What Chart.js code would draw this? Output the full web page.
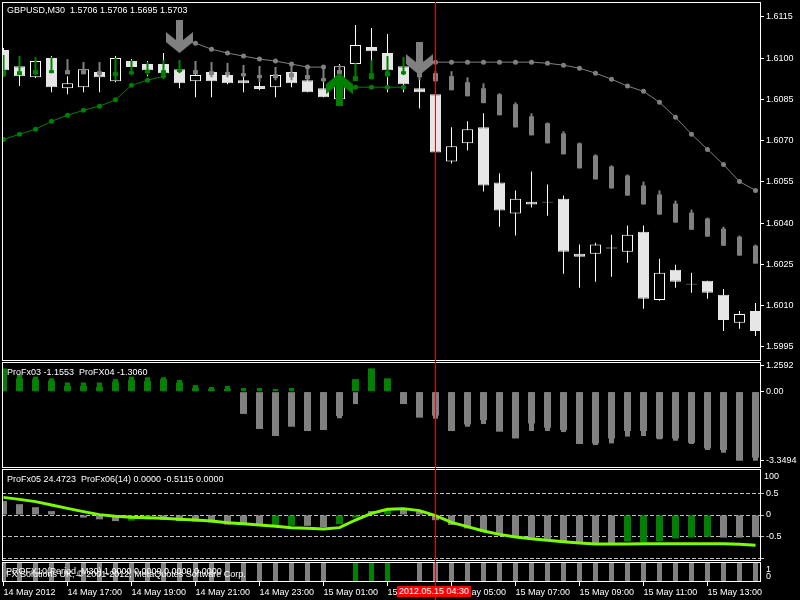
<!DOCTYPE html>
<html>
<head>
<meta charset="utf-8">
<script src="https://cdn.jsdelivr.net/npm/chart.js@4.4.1/dist/chart.umd.min.js"></script>
<style>
  html, body { margin: 0; background: #000; }
  #root { position: relative; width: 800px; height: 600px; overflow: hidden; background: #000;
          font: 9px 'Liberation Sans', Arial, sans-serif; color: #fff; }
  #root canvas { position: absolute; left: 0; }
  .lbl { position: absolute; white-space: pre; line-height: 11px; z-index: 2; }
  .stamp { background: #f00; padding-left: 2px; width: 72px; height: 11px; }
</style>
</head>
<body>
<div id="root">
  <div class="lbl" style="left:7px;top:5px">GBPUSD,M30  1.5706 1.5706 1.5695 1.5703</div>
  <div class="lbl" style="left:7px;top:367px">ProFx03 -1.1553  ProFX04 -1.3060</div>
  <div class="lbl" style="left:7px;top:474px">ProFx05 24.4723  ProFx06(14) 0.0000 -0.5115 0.0000</div>
  <div class="lbl" style="left:6px;top:566px">PROFX10(Period_M30) 1.0000 0.0000 0.0000 0.0000</div>
  <div class="lbl" style="left:6px;top:569px">FX Solutions UK, © 2001-2012, MetaQuotes Software Corp.</div>
  <div class="lbl" style="left:766px;top:564px">1</div>
  <div class="lbl" style="left:766px;top:571px">0</div>
  <div class="lbl stamp" style="left:397px;top:586px">2012.05.15 04:30</div>
</div>
<script>
// ---- bars (M30, 14 May 15:00 -> 15 May 14:30) ----
const barTimes = [
  '14.05 15:00','14.05 15:30','14.05 16:00','14.05 16:30','14.05 17:00','14.05 17:30',
  '14.05 18:00','14.05 18:30','14.05 19:00','14.05 19:30','14.05 20:00','14.05 20:30',
  '14.05 21:00','14.05 21:30','14.05 22:00','14.05 22:30','14.05 23:00','14.05 23:30',
  '15.05 00:00','15.05 00:30','15.05 01:00','15.05 01:30','15.05 02:00','15.05 02:30',
  '15.05 03:00','15.05 03:30','15.05 04:00','15.05 04:30','15.05 05:00','15.05 05:30',
  '15.05 06:00','15.05 06:30','15.05 07:00','15.05 07:30','15.05 08:00','15.05 08:30',
  '15.05 09:00','15.05 09:30','15.05 10:00','15.05 10:30','15.05 11:00','15.05 11:30',
  '15.05 12:00','15.05 12:30','15.05 13:00','15.05 13:30','15.05 14:00','15.05 14:30'
];
const axisLabelBars = [0, 4, 8, 12, 16, 20, 24, 28, 32, 36, 40, 44];
const axisLabels = ['14 May 2012','14 May 17:00','14 May 19:00','14 May 21:00','14 May 23:00',
  '15 May 01:00','15 May 03:00','15 May 05:00','15 May 07:00','15 May 09:00','15 May 11:00','15 May 13:00'];
const crosshairBar = 27;

const opens = [1.61029,1.60970,1.60930,1.61000,1.60890,1.60894,1.60949,1.60916,1.60989,1.60978,
  1.60978,1.60959,1.60916,1.60949,1.60938,1.60919,1.60898,1.60894,1.60949,1.60919,
  1.60890,1.60850,1.60978,1.61040,1.61018,1.60970,1.60890,1.60868,1.60624,1.60690,
  1.60748,1.60548,1.60435,1.60478,1.60478,1.60489,1.60289,1.60289,1.60311,1.60296,
  1.60369,1.60121,1.60231,1.60180,1.60191,1.60140,1.60038,1.60081];
const highs = [1.61036,1.61007,1.60992,1.61007,1.60934,1.60985,1.60985,1.61007,1.60996,1.60989,
  1.61018,1.60992,1.60989,1.60985,1.60981,1.60974,1.60970,1.60967,1.60981,1.60967,
  1.60963,1.60978,1.61120,1.61109,1.61087,1.61003,1.60938,1.60872,1.60748,1.60770,
  1.60799,1.60580,1.60519,1.60588,1.60540,1.60500,1.60322,1.60329,1.60358,1.60391,
  1.60391,1.60271,1.60249,1.60220,1.60191,1.60161,1.60081,1.60110];
const lows = [1.60949,1.60898,1.60927,1.60876,1.60868,1.60876,1.60876,1.60912,1.60938,1.60934,
  1.60938,1.60890,1.60857,1.60857,1.60905,1.60876,1.60883,1.60857,1.60894,1.60876,
  1.60857,1.60847,1.60919,1.60927,1.60876,1.60876,1.60817,1.60654,1.60617,1.60664,
  1.60515,1.60387,1.60355,1.60457,1.60427,1.60216,1.60165,1.60187,1.60205,1.60256,
  1.60089,1.60118,1.60165,1.60147,1.60125,1.60008,1.60016,1.59990];
const closes = [1.60956,1.60934,1.60989,1.60894,1.60908,1.60959,1.60930,1.61000,1.60967,1.60956,
  1.60945,1.60908,1.60938,1.60916,1.60908,1.60908,1.60887,1.60938,1.60908,1.60876,
  1.60857,1.60970,1.61047,1.61025,1.60956,1.60905,1.60876,1.60657,1.60679,1.60741,
  1.60537,1.60446,1.60489,1.60468,1.60475,1.60296,1.60278,1.60322,1.60308,1.60358,
  1.60125,1.60220,1.60187,1.60177,1.60147,1.60048,1.60070,1.60008];

// thin "shadow" candles drawn over the price bars
const ghostHi = [1.61011,1.61007,1.61003,1.61003,1.60996,1.60985,1.60985,1.61000,1.60992,1.60985,
  1.60992,1.60992,1.60989,1.60985,1.60981,1.60974,1.60970,1.60967,1.60981,1.60967,
  1.60974,1.60974,1.60981,1.60992,1.61007,1.61003,1.60970,1.60952,1.60952,1.60930,
  1.60908,1.60872,1.60839,1.60799,1.60766,1.60734,1.60693,1.60650,1.60610,1.60577,
  1.60551,1.60519,1.60482,1.60449,1.60420,1.60387,1.60355,1.60322];
const ghostLo = [1.60930,1.60938,1.60938,1.60945,1.60941,1.60941,1.60930,1.60919,1.60938,1.60938,
  1.60938,1.60945,1.60941,1.60930,1.60930,1.60930,1.60912,1.60919,1.60919,1.60919,
  1.60912,1.60919,1.60916,1.60923,1.60930,1.60938,1.60919,1.60912,1.60883,1.60861,
  1.60836,1.60792,1.60748,1.60719,1.60690,1.60650,1.60599,1.60559,1.60526,1.60500,
  1.60468,1.60431,1.60402,1.60376,1.60351,1.60318,1.60282,1.60253];
const ghostBodyHi = [1.60956,1.60952,1.60956,1.60956,1.60956,1.60956,1.60952,1.60949,1.60952,1.60956,
  1.60956,1.60959,1.60956,1.60952,1.60949,1.60945,1.60938,1.60941,1.60945,1.60938,
  1.60927,1.60956,1.60934,1.60945,1.60952,1.60952,1.60949,1.60945,1.60934,1.60912,
  1.60890,1.60868,1.60832,1.60788,1.60763,1.60726,1.60690,1.60646,1.60606,1.60573,
  1.60537,1.60504,1.60471,1.60438,1.60417,1.60380,1.60351,1.60318];
const ghostBodyLo = [1.60934,1.60938,1.60941,1.60945,1.60941,1.60941,1.60938,1.60934,1.60941,1.60945,
  1.60941,1.60949,1.60941,1.60938,1.60938,1.60934,1.60927,1.60927,1.60930,1.60923,
  1.60916,1.60941,1.60916,1.60923,1.60934,1.60941,1.60930,1.60916,1.60883,1.60861,
  1.60836,1.60792,1.60748,1.60719,1.60690,1.60650,1.60599,1.60559,1.60526,1.60500,
  1.60468,1.60431,1.60402,1.60376,1.60351,1.60318,1.60282,1.60253];
const ghostGreen = [1,1,1,1,0,0,0,1,1,1, 1,1,0,0,0,0,0,0,0,0, 0,0,1,1,1,1,0,0,0,0,
  0,0,0,0,0,0,0,0,0,0, 0,0,0,0,0,0,0,0];

// dotted trailing lines + signal arrows
const trailGray = [null,null,null,null,null,null,null,null,null,null,
  null,1.61061,1.61054,1.61032,1.61018,1.61007,1.60996,1.60989,1.60978,1.60967,
  1.60967,null,null,null,null,null,1.60985,1.60985,1.60985,1.60985,
  1.60985,1.60985,1.60985,1.60985,1.60981,1.60974,1.60963,1.60945,1.60923,1.60898,
  1.60879,1.60839,1.60785,1.60723,1.60668,1.60613,1.60551,1.60519];
const trailGreen = [1.60704,1.60723,1.60741,1.60770,1.60792,1.60810,1.60825,1.60848,1.60901,1.60919,
  1.60934,null,null,null,null,null,null,null,null,null,
  null,1.60894,1.60894,1.60894,1.60894,1.60894,null,null,null,null,
  null,null,null,null,null,null,null,null,null,null,
  null,null,null,null,null,null,null,null];
const sellArrowBars = [11, 26];
const sellArrowPrices = [1.61078, 1.60998];
const buyArrowBars = [21];
const buyArrowPrices = [1.60885];
const priceTicks = [1.6115, 1.6100, 1.6085, 1.6070, 1.6055, 1.6040, 1.6025, 1.6010, 1.5995];

// ProFx03 / ProFX04 histogram window
const fx03 = [1.13,0.65,0.61,0.53,0.28,0.28,0.24,0.49,0.57,0.52,
  0.61,0.44,0.19,0.13,0.13,-1.08,-1.81,-2.15,-1.70,-1.91,
  -1.86,-1.18,0.61,1.13,0.65,-0.60,-1.26,-1.16,-1.91,-1.59,
  -1.38,-1.94,-2.27,-1.54,-1.75,-1.86,-2.54,-2.51,-2.27,-1.91,
  -1.91,-2.27,-2.27,-2.48,-2.75,-2.83,-3.35,-3.20];
const fx04 = [1.00,0.84,0.73,0.65,0.45,0.45,0.45,0.61,0.73,0.70,
  0.70,0.57,0.32,0.23,0.28,0.18,0.18,0.13,0.18,-1.50,
  -1.50,-1.29,-0.60,-0.03,0.40,-0.50,-1.10,-1.31,-1.70,-1.70,
  -1.57,-1.80,-2.10,-1.91,-1.91,-1.96,-2.40,-2.59,-2.51,-2.18,
  -2.15,-2.31,-2.38,-2.54,-2.83,-2.96,-3.20,-3.35];
const fx03Ticks = [1.2592, 0, -3.3494];

// ProFx05 line / ProFx06 histogram window
const fx05 = [77.2,75.0,72.5,68.8,65.1,61.5,58.2,56.3,55.2,54.9,
  54.1,53.0,52.3,51.2,49.4,48.3,46.8,45.3,43.9,43.1,
  42.4,43.9,52.3,59.6,64.0,64.8,62.6,57.1,49.7,45.0,
  40.2,36.5,33.6,31.8,29.9,28.5,27.0,25.9,25.9,25.9,
  26.3,26.3,26.3,26.3,26.3,26.3,25.5,24.47];
const fx06 = [0.32,0.25,0.18,0.09,0.01,-0.06,-0.10,-0.14,-0.13,-0.10,
  -0.11,-0.14,-0.15,-0.17,-0.22,-0.23,-0.25,-0.25,-0.25,-0.25,
  -0.28,-0.21,-0.06,0.09,0.14,0.13,0.08,-0.12,-0.23,-0.31,
  -0.38,-0.46,-0.52,-0.52,-0.55,-0.60,-0.63,-0.65,-0.65,-0.61,
  -0.63,-0.60,-0.54,-0.52,-0.50,-0.52,-0.52,-0.51];
const fx06Green = [0,0,0,0,0,0,0,0,1,1, 0,0,0,0,0,0,0,1,1,0, 0,1,1,0,1,0,0,0,0,0,
  0,0,0,0,0,0,0,0,0,1, 1,1,1,1,1,0,0,0];
const fx06Levels = [0.5, 0, -0.5, -1];
const fx05Ticks = [100];

// PROFX10 signal strip
const fx10 = [1,1,1,1,1,1,1,1,1,1, 1,1,1,1,1,1,1,1,1,1, 1,0,1,1,1,0,1,1,1,1,
  1,1,1,1,1,1,1,1,1,1, 1,1,1,1,1,1,1,1];
const fx10Green = [0,0,0,0,0,0,0,0,0,0, 0,0,0,0,0,0,0,0,0,0, 0,0,1,1,1,0,0,0,0,0,
  0,0,0,0,0,0,0,0,0,0, 0,0,0,0,0,0,0,0];

// ---- drawing ----
const GRAY = '#808080', GREEN = '#008000', LIME = '#7cfc00';
Chart.defaults.font.family = "'Liberation Sans', Arial, sans-serif";
Chart.defaults.font.size = 9;
Chart.defaults.color = '#fff';

const pts = arr => arr.map((v, i) => ({ x: i, y: v }));
const spans = (a, b) => a.map((v, i) => ({ x: i, y: [v, b[i]] }));
const bar = (data, thickness, color, order, extra) => Object.assign({
  type: 'bar', data, barThickness: thickness, backgroundColor: color, grouped: false,
  borderSkipped: false, inflateAmount: 0, borderWidth: 0, order
}, extra || {});

function arrowSprite(color, pointsDown) {
  const c = document.createElement('canvas');
  c.width = 27; c.height = 33;
  const g = c.getContext('2d');
  const shape = [[10,0],[17,0],[17,20],[27,12],[27,22],[13.5,33],[0,22],[0,12],[10,20]];
  g.fillStyle = color;
  g.beginPath();
  shape.forEach(([x, y], i) => {
    const yy = pointsDown ? y : 33 - y;
    if (i) g.lineTo(x, yy); else g.moveTo(x, yy);
  });
  g.closePath();
  g.fill();
  return c;
}

// panel frame + red crosshair
const frame = {
  id: 'frame',
  afterDraw(chart) {
    const { ctx, chartArea: a } = chart;
    ctx.save();
    ctx.strokeStyle = '#fff';
    ctx.lineWidth = 1;
    ctx.strokeRect(a.left + 0.5, a.top + 0.5, a.right - a.left - 1, a.bottom - a.top - 1);
    const x = chart.scales.x.getPixelForValue(crosshairBar);
    ctx.fillStyle = '#f00';
    ctx.fillRect(Math.floor(x), a.top, 1, chart.height - a.top);
    ctx.restore();
  }
};

// the panels are laid out by hand, so no label overflow padding
const noPad = s => { s.paddingTop = 0; s.paddingBottom = 0; s.paddingLeft = 0; s.paddingRight = 0; };

const xScale = () => ({
  type: 'linear', min: -0.09375, max: 47.34375, display: false, offset: false, grid: { offset: false }
});

function rightAxis(min, max, ticks, fmt, width, extra) {
  return Object.assign({
    position: 'right', min, max,
    afterBuildTicks: s => { s.ticks = ticks.map(v => ({ value: v })); },
    afterFit: s => { s.width = width; noPad(s); },
    grid: { drawOnChartArea: false, drawTicks: true, tickLength: 3, color: '#fff' },
    border: { display: false },
    ticks: { color: '#fff', padding: 2, autoSkip: false, callback: v => fmt(v) }
  }, extra || {});
}

function makeChart(top, height, padTop, datasets, scales) {
  const c = document.createElement('canvas');
  c.width = 800; c.height = height;
  c.style.top = top + 'px';
  const root = document.getElementById('root');
  root.insertBefore(c, root.firstChild);
  return new Chart(c, {
    type: 'bar',
    data: { datasets },
    options: {
      responsive: false, animation: false, events: [], devicePixelRatio: 1,
      layout: { autoPadding: false, padding: { left: 2, right: 0, top: padTop, bottom: 0 } },
      plugins: { legend: { display: false }, tooltip: { enabled: false } },
      scales
    },
    plugins: [frame]
  });
}

// main price window
const bull = opens.map((o, i) => closes[i] > o);
makeChart(0, 361, 2, [
  bar(spans(lows, highs), 1, '#fff', 10),
  bar(spans(opens, closes), 11, bull.map(b => b ? '#000' : '#e6e6e6'), 9,
      { borderWidth: 1, borderColor: bull.map(b => b ? '#fff' : '#e6e6e6') }),
  bar(spans(ghostLo, ghostHi), 2, ghostGreen.map(g => g ? GREEN : GRAY), 8),
  bar(spans(ghostBodyLo, ghostBodyHi), 5, ghostGreen.map(g => g ? GREEN : GRAY), 7),
  { type: 'line', data: pts(trailGray), borderColor: GRAY, borderWidth: 1, pointRadius: 2.5,
    pointBackgroundColor: GRAY, pointBorderWidth: 0, spanGaps: false, order: 6 },
  { type: 'line', data: pts(trailGreen), borderColor: GREEN, borderWidth: 1, pointRadius: 2.5,
    pointBackgroundColor: GREEN, pointBorderWidth: 0, spanGaps: false, order: 5 },
  { type: 'line', showLine: false, order: 1, pointRadius: 10, pointStyle: arrowSprite(GRAY, true),
    data: sellArrowBars.map((b, i) => ({ x: b, y: sellArrowPrices[i] })) },
  { type: 'line', showLine: false, order: 1, pointRadius: 10, pointStyle: arrowSprite(GREEN, false),
    data: buyArrowBars.map((b, i) => ({ x: b, y: buyArrowPrices[i] })) }
], {
  x: xScale(),
  y: rightAxis(1.5989900, 1.6120357, priceTicks, v => v.toFixed(4), 39)
});

// ProFx03 / ProFX04
makeChart(361, 107, 1, [
  bar(pts(fx03), 7, fx03.map(v => v >= 0 ? GREEN : GRAY), 2),
  bar(pts(fx04), 5, fx04.map(v => v >= 0 ? GREEN : GRAY), 1)
], {
  x: xScale(),
  y: rightAxis(-3.7039, 1.4417, fx03Ticks, v => v === 0 ? '0.00' : v.toFixed(4), 39)
});

// ProFx05 / ProFx06 (the ProFx05 scale shares the right margin, label mirrored past its zero-width box)
makeChart(468, 93, 1, [
  bar(pts(fx06), 7, fx06Green.map(g => g ? GREEN : GRAY), 2),
  { type: 'line', yAxisID: 'y2', data: pts(fx05), borderColor: LIME, borderWidth: 3,
    pointRadius: 0, order: 1 }
], {
  x: xScale(),
  y: rightAxis(-1.0599, 1.0599, fx06Levels, v => v === -1 ? '' : String(v), 39, {
    weight: 1,
    grid: { drawOnChartArea: true, drawTicks: true, tickLength: 3, color: '#c0c0c0' },
    border: { display: false, dash: [4, 2] }
  }),
  y2: rightAxis(7.20, 108.40, fx05Ticks, v => String(v), 0, {
    weight: 0,
    grid: { drawOnChartArea: false, drawTicks: false },
    ticks: { color: '#fff', mirror: true, padding: 18, autoSkip: false, callback: v => String(v) }
  })
});

// PROFX10 strip + time axis
makeChart(561, 39, 1, [
  bar(pts(fx10), 5, fx10Green.map(g => g ? GREEN : GRAY), 1)
], {
  x: {
    type: 'linear', min: -0.09375, max: 47.34375, offset: false, position: 'bottom',
    afterBuildTicks: s => { s.ticks = axisLabelBars.map(v => ({ value: v })); },
    afterFit: s => { s.height = 18; noPad(s); },
    grid: { drawOnChartArea: false, drawTicks: true, tickLength: 4, color: '#fff', offset: false },
    border: { display: false },
    ticks: { color: '#fff', align: 'start', padding: 1, maxRotation: 0, autoSkip: false,
             callback: v => axisLabels[axisLabelBars.indexOf(v)] }
  },
  y: {
    position: 'right', min: 0, max: 1,
    afterFit: s => { s.width = 39; noPad(s); },
    grid: { display: false }, border: { display: false }, ticks: { display: false }
  }
});
</script>
</body>
</html>
